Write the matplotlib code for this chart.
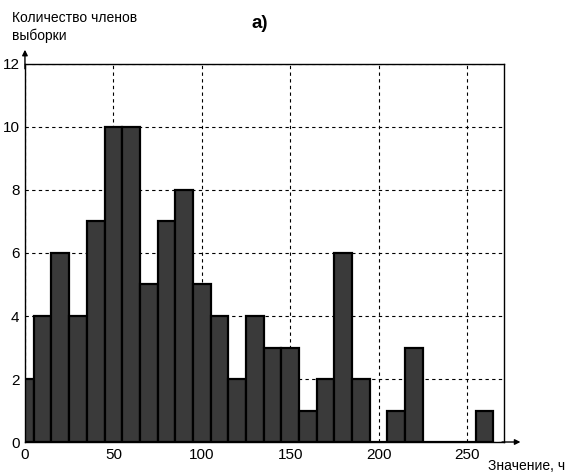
import matplotlib
matplotlib.use("Agg")
import matplotlib.pyplot as plt

plt.rcParams['font.family'] = ['Liberation Sans', 'DejaVu Sans']

# Histogram data: bin centres (step 10) and counts
bin_centers = [0, 10, 20, 30, 40, 50, 60, 70, 80, 90, 100, 110, 120, 130,
               140, 150, 160, 170, 180, 190, 200, 210, 220, 230, 240, 250, 260]
counts = [2, 4, 6, 4, 7, 10, 10, 5, 7, 8, 5, 4, 2, 4,
          3, 3, 1, 2, 6, 2, 0, 1, 3, 0, 0, 0, 1]
x_ticks = [0, 50, 100, 150, 200, 250]
y_ticks = [0, 2, 4, 6, 8, 10, 12]

fig = plt.figure(figsize=(5.67, 4.74), dpi=100)
ax = fig.add_axes([0.044, 0.0675, 0.845, 0.7975])

ax.bar(bin_centers, counts, width=10, color='#3a3a3a', edgecolor='black',
       linewidth=1.6, zorder=3)

ax.set_xlim(0, 271)
ax.set_ylim(0, 12)
ax.set_xticks(x_ticks)
ax.set_yticks(y_ticks)
ax.tick_params(length=0, labelsize=11, pad=4)

ax.grid(True, color='black', linestyle=(0, (3, 3)), linewidth=0.8, zorder=1)

for side in ['left', 'bottom', 'right', 'top']:
    ax.spines[side].set_linewidth(1.0)
    ax.spines[side].set_color('black')
    ax.spines[side].set_zorder(4)

# Axis arrows
ax.annotate('', xy=(0, 1.045), xytext=(0, 0.98), xycoords='axes fraction',
            arrowprops=dict(arrowstyle='-|>', color='black', lw=1.0,
                            mutation_scale=8), annotation_clip=False)
ax.annotate('', xy=(1.04, 0), xytext=(0.99, 0), xycoords='axes fraction',
            arrowprops=dict(arrowstyle='-|>', color='black', lw=1.0,
                            mutation_scale=8), annotation_clip=False)

fig.text(12 / 567, 1 - 22 / 474, 'Количество членов',
         fontsize=10, ha='left', va='baseline')
fig.text(12 / 567, 1 - 40 / 474, 'выборки',
         fontsize=10, ha='left', va='baseline')
fig.text(488 / 567, 1 - 470 / 474, 'Значение, ч',
         fontsize=10, ha='left', va='baseline')
fig.text(251 / 567, 1 - 28 / 474, 'а)', fontsize=13.5, fontweight='bold',
         ha='left', va='baseline')

fig.savefig('out.png', dpi=100)
